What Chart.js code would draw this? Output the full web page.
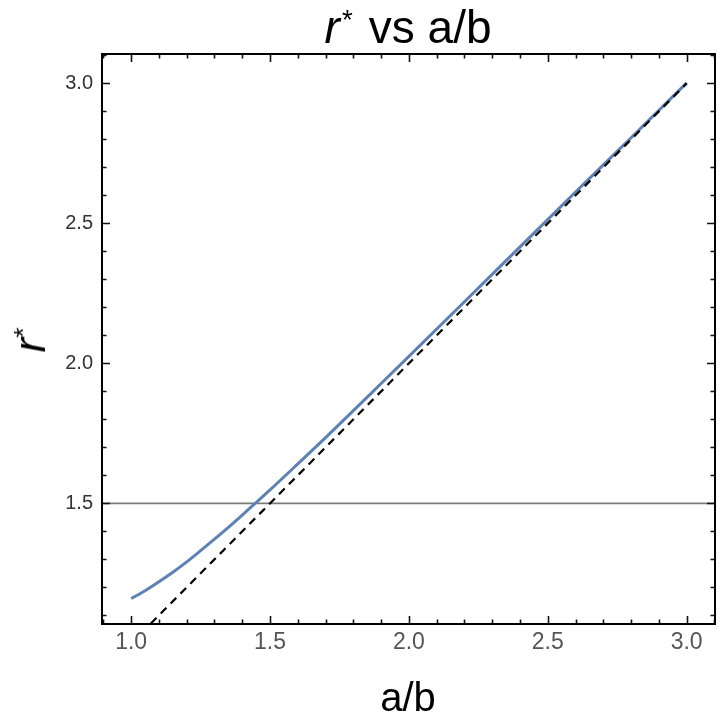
<!DOCTYPE html>
<html>
<head>
<meta charset="utf-8">
<script src="https://cdn.jsdelivr.net/npm/chart.js@4"></script>
<style>
  body{margin:0;background:#fff;}
  #wrap{position:relative;width:720px;height:728px;font-family:"Liberation Sans",Arial,sans-serif;color:#000;}
  #wrap canvas{position:absolute;left:0;top:0;}
  .lbl{position:absolute;white-space:nowrap;}
  .lbl sup{font-size:0.6em;vertical-align:0.5em;line-height:0;font-style:normal;}
  #titulo{left:408px;top:4px;font-size:46px;line-height:46px;transform:translateX(-50%);}
  #titulo sup{margin-left:0.08em;margin-right:0.12em;}
  #ejeX{left:408px;top:677px;font-size:40px;line-height:40px;transform:translateX(-50%);}
  #ejeY{left:30px;top:340px;font-size:44px;line-height:44px;transform:translate(-50%,-50%) rotate(-90deg);}
</style>
</head>
<body>
<div id="wrap">
  <canvas id="myChart" width="720" height="728"></canvas>
  <div class="lbl" id="titulo"><i>r</i><sup>*</sup> vs a/b</div>
  <div class="lbl" id="ejeX">a/b</div>
  <div class="lbl" id="ejeY"><i>r</i><sup>*</sup></div>
</div>
<script>
// valores
const ratioAB = [1.00,1.05,1.10,1.15,1.20,1.25,1.30,1.35,1.40,1.45,1.50,1.60,1.70,1.80,1.90,2.00,2.20,2.40,2.60,2.80,3.00];
const rStar   = [1.160,1.188,1.220,1.254,1.291,1.331,1.372,1.414,1.458,1.503,1.548,1.641,1.735,1.831,1.928,2.025,2.220,2.416,2.612,2.806,3.002];

// recta r* = a/b
const diagX = [1.0, 3.0];
const diagY = [1.0, 3.0];

// linea horizontal
const nivelRef = 1.5;

const xTicks = [1.0, 1.5, 2.0, 2.5, 3.0];
const yTicks = [1.5, 2.0, 2.5, 3.0];
const xRango = [0.895, 3.102];
const yRango = [1.069, 3.105];

const ctx = document.getElementById('myChart');

const marco = {
  id: 'marco',
  afterDatasetsDraw(chart) {
    const c = chart.ctx;
    const a = chart.chartArea;
    const sx = chart.scales.x, sy = chart.scales.y;
    c.save();
    c.strokeStyle = '#111';
    c.lineWidth = 1.6;
    const paso = 0.1;
    // ticks x (abajo y arriba, hacia dentro)
    for (let v = Math.ceil(xRango[0] / paso) * paso; v <= xRango[1]; v += paso) {
      const mayor = Math.abs(v * 2 - Math.round(v * 2)) < 1e-6;
      const len = mayor ? 8 : 4.5;
      const px = Math.round(sx.getPixelForValue(v)) + 0.5;
      c.beginPath();
      c.moveTo(px, a.bottom); c.lineTo(px, a.bottom - len);
      c.moveTo(px, a.top); c.lineTo(px, a.top + len);
      c.stroke();
    }
    // ticks y (izquierda y derecha)
    for (let v = Math.ceil(yRango[0] / paso) * paso; v <= yRango[1]; v += paso) {
      const mayor = Math.abs(v * 2 - Math.round(v * 2)) < 1e-6;
      const len = mayor ? 8 : 4.5;
      const py = Math.round(sy.getPixelForValue(v)) + 0.5;
      c.beginPath();
      c.moveTo(a.left, py); c.lineTo(a.left + len, py);
      c.moveTo(a.right, py); c.lineTo(a.right - len, py);
      c.stroke();
    }
    c.lineWidth = 2;
    c.strokeStyle = '#000';
    c.strokeRect(a.left, a.top, a.right - a.left, a.bottom - a.top);
    c.restore();
  }
};

const grafico = new Chart(ctx, {
  type: 'line',
  data: {
    datasets: [
      {
        label: 'r = a/b',
        data: diagX.map((x, i) => ({x: x, y: diagY[i]})),
        borderColor: '#000',
        borderWidth: 2.2,
        borderDash: [8, 6],
        pointRadius: 0,
        order: 0
      },
      {
        label: 'r*',
        data: ratioAB.map((x, i) => ({x: x, y: rStar[i]})),
        borderColor: '#5E81B5',
        borderWidth: 3,
        pointRadius: 0,
        cubicInterpolationMode: 'monotone',
        order: 1
      },
      {
        label: 'nivel',
        data: [{x: xRango[0], y: nivelRef}, {x: xRango[1], y: nivelRef}],
        borderColor: '#7a7a7a',
        borderWidth: 1.8,
        pointRadius: 0,
        order: 2
      }
    ]
  },
  options: {
    responsive: false,
    animation: false,
    layout: { padding: { top: 54, right: 5, left: 0, bottom: 0 } },
    plugins: { legend: { display: false }, tooltip: { enabled: false }, title: { display: false } },
    scales: {
      x: {
        type: 'linear',
        min: xRango[0],
        max: xRango[1],
        grid: { display: false, drawTicks: false },
        border: { display: false },
        afterBuildTicks: (s) => { s.ticks = xTicks.map(v => ({value: v})); },
        afterFit: (s) => { s.height = 104; },
        ticks: {
          padding: 5,
          color: '#555',
          font: { family: 'Liberation Sans', size: 23 },
          callback: (v) => Number(v).toFixed(1)
        }
      },
      y: {
        type: 'linear',
        min: yRango[0],
        max: yRango[1],
        grid: { display: false, drawTicks: false },
        border: { display: false },
        afterBuildTicks: (s) => { s.ticks = yTicks.map(v => ({value: v})); },
        afterFit: (s) => { s.width = 102; },
        ticks: {
          padding: 9,
          color: '#333',
          font: { family: 'Liberation Sans', size: 20 },
          callback: (v) => Number(v).toFixed(1)
        }
      }
    }
  },
  plugins: [marco]
});
</script>
</body>
</html>
